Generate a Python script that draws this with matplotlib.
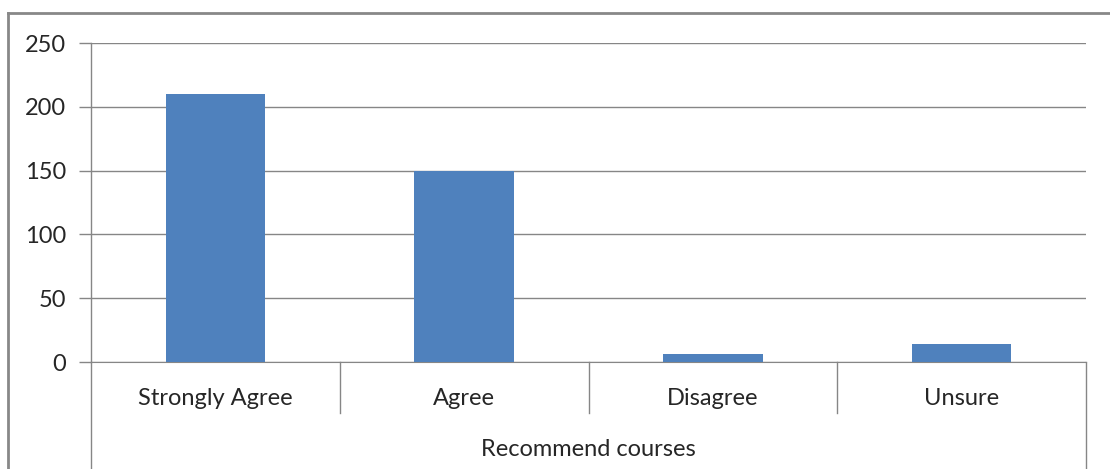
import matplotlib.pyplot as plt
from matplotlib.lines import Line2D
import matplotlib.transforms as mtransforms

# data
categories = ['Strongly Agree', 'Agree', 'Disagree', 'Unsure']
counts = [210, 150, 6, 14]
group_label = 'Recommend courses'
y_ticks = [0, 50, 100, 150, 200, 250]

plt.rcParams['font.family'] = ['Lato', 'DejaVu Sans']

W, H = 1110, 469
fig = plt.figure(figsize=(W / 100, H / 100), dpi=100)
ax = fig.add_axes([91 / W, (H - 362) / H, (1086 - 91) / W, (362 - 43) / H])

grid_c = '#868686'
text_c = '#262626'
fs = 17

x = list(range(len(categories)))
ax.bar(x, counts, width=0.4, color='#4F81BD', zorder=3)

ax.set_xlim(-0.5, len(categories) - 0.5)
ax.set_ylim(0, 250)
ax.set_yticks(y_ticks)
ax.yaxis.grid(True, color=grid_c, linewidth=1)
ax.set_axisbelow(True)
ax.set_xticks([])
for s in ['top', 'right', 'left']:
    ax.spines[s].set_visible(False)
ax.spines['bottom'].set_color(grid_c)
ax.tick_params(axis='y', length=9, width=1, color=grid_c, pad=9,
               labelsize=fs, labelcolor=text_c)

# multi-level category axis
trans = mtransforms.blended_transform_factory(ax.transData, ax.transAxes)
sep_depth = -(413 - 362) / (362 - 43)
full_depth = -(469 - 362) / (362 - 43)
for i in range(len(categories) + 1):
    xb = i - 0.5
    y1 = full_depth if i in (0, len(categories)) else sep_depth
    ax.add_line(Line2D([xb, xb], [0, y1], transform=trans, color=grid_c,
                       linewidth=1, clip_on=False))
ax.add_line(Line2D([-0.5, -0.5], [0, 1], transform=trans, color=grid_c,
                   linewidth=1, clip_on=False))
for i, c in enumerate(categories):
    ax.text(i, -(398 - 362) / (362 - 43), c, transform=trans, ha='center',
            va='center', fontsize=fs, color=text_c)
ax.text(1.5, -(449 - 362) / (362 - 43), group_label, transform=trans,
        ha='center', va='center', fontsize=fs, color=text_c)

# outer chart border
fig.add_artist(Line2D([8 / W, 8 / W], [0, (H - 13) / H], color='#888888',
                      linewidth=2, transform=fig.transFigure))
fig.add_artist(Line2D([8 / W, 1], [(H - 13) / H, (H - 13) / H], color='#888888',
                      linewidth=2, transform=fig.transFigure))

fig.savefig('out.png', dpi=100, facecolor='white')
